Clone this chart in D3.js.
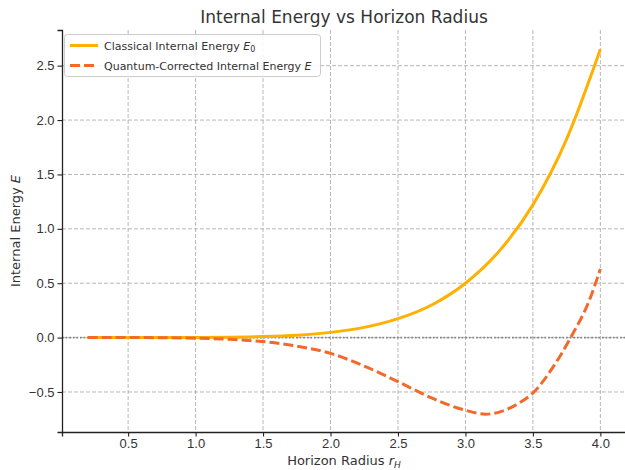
<!DOCTYPE html>
<html>
<head>
<meta charset="utf-8">
<script src="https://cdn.jsdelivr.net/npm/d3@7"></script>
<style>
  body { margin: 0; background: #fff; }
  svg { font-family: "DejaVu Sans", sans-serif; }
</style>
</head>
<body>
<svg id="chart" width="625" height="470"></svg>
<script>
// values
var classicalR = [0.2, 0.5, 0.75, 1.0, 1.25, 1.5, 1.75, 2.0, 2.25, 2.5, 2.75, 3.0, 3.25, 3.5, 3.75, 4.0];
var classicalE = [0.0, 0.0, 0.0002, 0.001, 0.003, 0.009, 0.022, 0.048, 0.094, 0.174, 0.30, 0.50, 0.795, 1.22, 1.825, 2.65];

var quantumR = [0.2, 0.5, 0.75, 1.0, 1.25, 1.5, 1.75, 2.0, 2.25, 2.5, 2.75, 3.0, 3.15, 3.25, 3.4, 3.5, 3.65, 3.78, 3.92, 4.0];
var quantumE = [0.0, 0.0, -0.001, -0.005, -0.016, -0.037, -0.078, -0.145, -0.262, -0.405, -0.555, -0.668, -0.704, -0.685, -0.60, -0.51, -0.27, 0.0, 0.348, 0.63];

var xTicks = [0.5, 1.0, 1.5, 2.0, 2.5, 3.0, 3.5, 4.0];
var yTicks = [-0.5, 0.0, 0.5, 1.0, 1.5, 2.0, 2.5];

var svg = d3.select("#chart");
var plotLeft = 62, plotRight = 626, plotTop = 30, plotBottom = 432;

var x = d3.scaleLinear().domain([0.01, 4.19]).range([plotLeft, plotRight]);
var y = d3.scaleLinear().domain([-0.868, 2.828]).range([plotBottom, plotTop]);

// grid
var grid = svg.append("g");
grid.selectAll(".gx").data(xTicks).enter().append("line")
  .attr("x1", d => x(d)).attr("x2", d => x(d))
  .attr("y1", plotTop).attr("y2", plotBottom)
  .attr("stroke", "#b0b0b0").attr("stroke-width", 0.9)
  .attr("stroke-dasharray", "4,2");
grid.selectAll(".gy").data(yTicks).enter().append("line")
  .attr("x1", plotLeft).attr("x2", plotRight)
  .attr("y1", d => y(d)).attr("y2", d => y(d))
  .attr("stroke", "#b0b0b0").attr("stroke-width", 0.9)
  .attr("stroke-dasharray", "4,2");

// zero line
svg.append("line")
  .attr("x1", plotLeft).attr("x2", plotRight)
  .attr("y1", y(0)).attr("y2", y(0))
  .attr("stroke", "#888").attr("stroke-width", 1.8)
  .attr("stroke-dasharray", "1.8,1.8");

var line = d3.line().curve(d3.curveMonotoneX);

svg.append("path")
  .attr("d", line(classicalR.map((r, i) => [x(r), y(classicalE[i])])))
  .attr("fill", "none").attr("stroke", "#FFB000").attr("stroke-width", 3);

svg.append("path")
  .attr("d", line(quantumR.map((r, i) => [x(r), y(quantumE[i])])))
  .attr("fill", "none").attr("stroke", "#F26A2B").attr("stroke-width", 3)
  .attr("stroke-dasharray", "10,4");

// axes
var xAxis = svg.append("g").attr("transform", "translate(0," + plotBottom + ")")
  .call(d3.axisBottom(x).tickValues(xTicks).tickFormat(d3.format(".1f")).tickSizeOuter(0).tickSize(4.5).tickPadding(2.5));
var yAxis = svg.append("g").attr("transform", "translate(" + plotLeft + ",0)")
  .call(d3.axisLeft(y).tickValues(yTicks).tickFormat(d => d < 0 ? "\u2212" + Math.abs(d).toFixed(1) : d.toFixed(1)).tickSizeOuter(0).tickSize(4.5).tickPadding(3));
[xAxis, yAxis].forEach(function (a) {
  a.select(".domain").attr("stroke", "#222").attr("stroke-width", 1.3);
  a.selectAll(".tick line").attr("stroke", "#222").attr("stroke-width", 1.1);
  a.selectAll(".tick text").attr("fill", "#333").style("font-size", "13px");
});

// title and labels
svg.append("text").attr("x", 344).attr("y", 23).attr("text-anchor", "middle")
  .style("font-size", "17px").attr("fill", "#333").text("Internal Energy vs Horizon Radius");

var xl = svg.append("text").attr("x", 344).attr("y", 465).attr("text-anchor", "middle")
  .style("font-size", "13px").attr("fill", "#333");
xl.append("tspan").text("Horizon Radius ");
xl.append("tspan").style("font-style", "italic").text("r");
xl.append("tspan").style("font-style", "italic").style("font-size", "9px").attr("dy", 3).text("H");

var yl = svg.append("text").attr("transform", "translate(20,231) rotate(-90)").attr("text-anchor", "middle")
  .style("font-size", "13px").attr("fill", "#333");
yl.append("tspan").text("Internal Energy ");
yl.append("tspan").style("font-style", "italic").text("E");

// legend
var lg = svg.append("g");
lg.append("rect").attr("x", 64.5).attr("y", 34.5).attr("width", 256).attr("height", 42).attr("rx", 3)
  .attr("fill", "#fff").attr("fill-opacity", 0.85).attr("stroke", "#ccc");
lg.append("line").attr("x1", 70).attr("x2", 98).attr("y1", 45.5).attr("y2", 45.5)
  .attr("stroke", "#FFB000").attr("stroke-width", 3);
lg.append("line").attr("x1", 70).attr("x2", 98).attr("y1", 65.5).attr("y2", 65.5)
  .attr("stroke", "#F26A2B").attr("stroke-width", 3).attr("stroke-dasharray", "10,4");
var t1 = lg.append("text").attr("x", 104).attr("y", 49.5).style("font-size", "11px").attr("fill", "#333");
t1.append("tspan").text("Classical Internal Energy ");
t1.append("tspan").style("font-style", "italic").text("E");
t1.append("tspan").style("font-size", "8px").attr("dy", 2).text("0");
var t2 = lg.append("text").attr("x", 104).attr("y", 69.5).style("font-size", "11px").attr("fill", "#333");
t2.append("tspan").text("Quantum-Corrected Internal Energy ");
t2.append("tspan").style("font-style", "italic").text("E");
</script>
</body>
</html>
